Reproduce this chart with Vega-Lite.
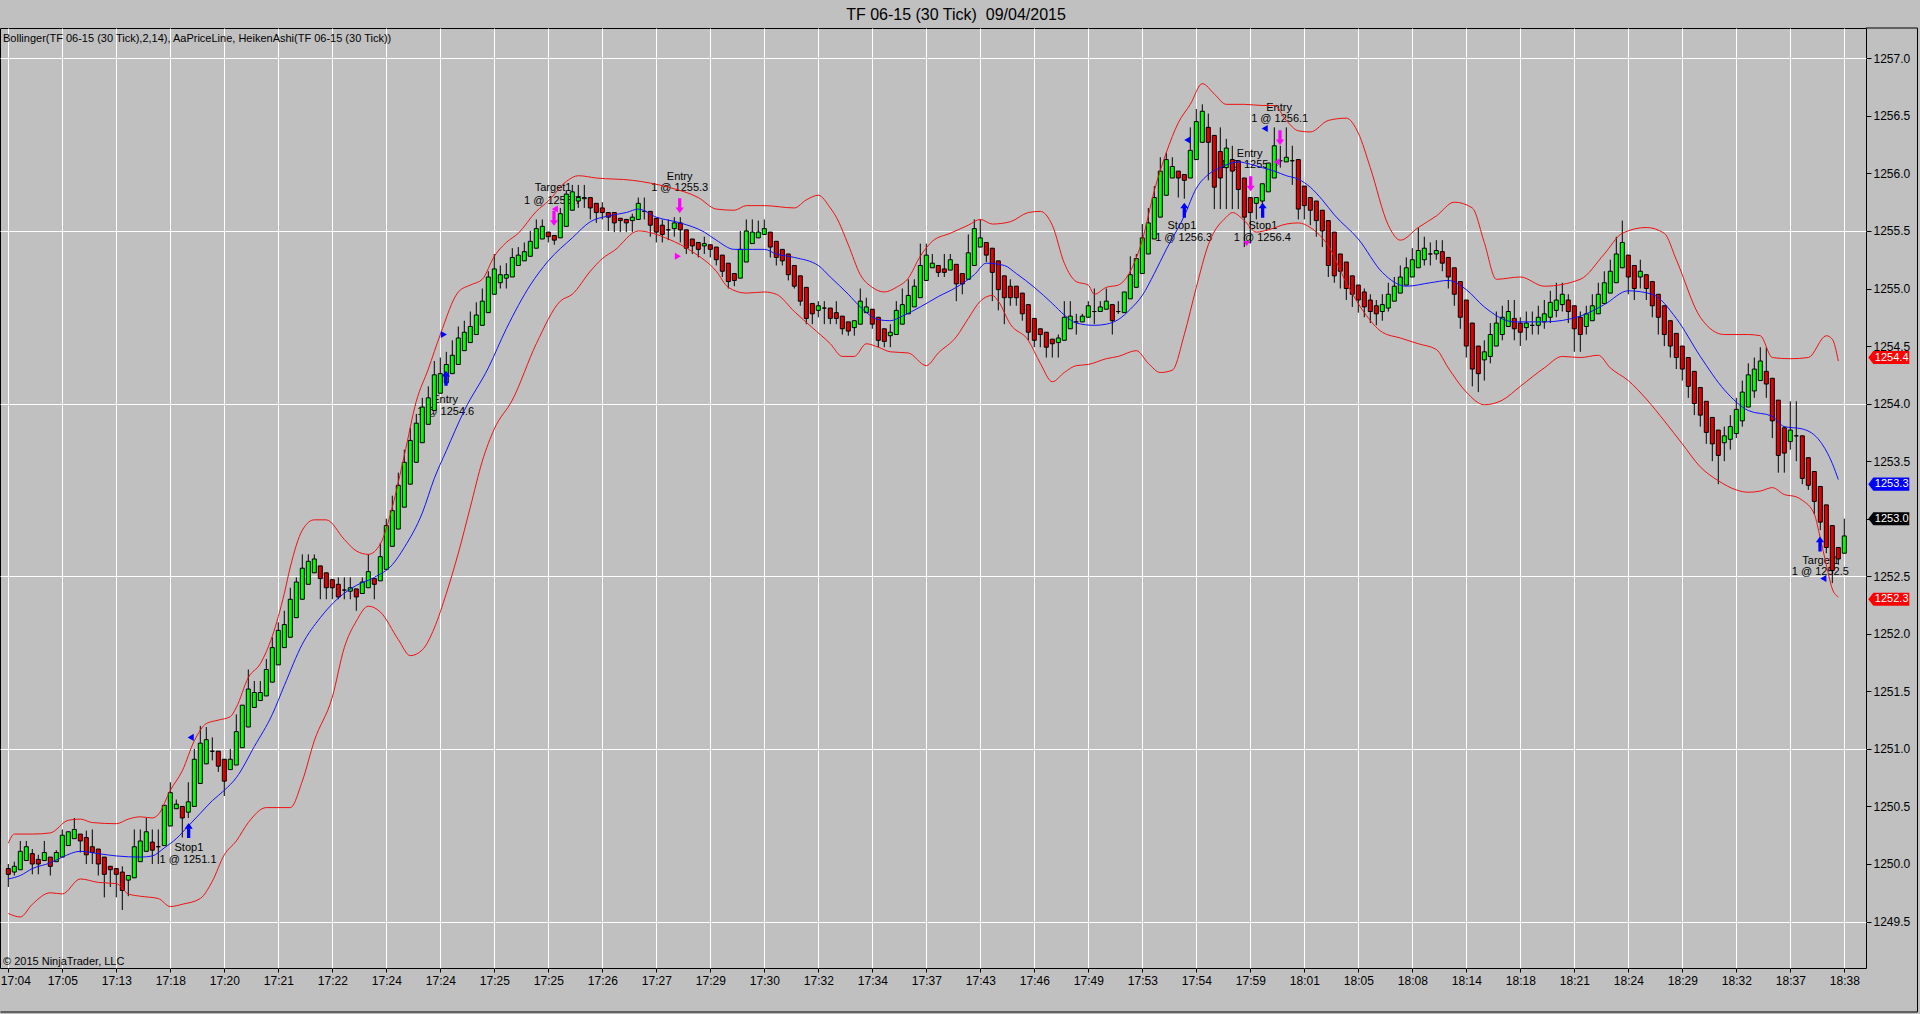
{
"$schema":"https://vega.github.io/schema/vega-lite/v6.json",
"width":1866,"height":940,
"autosize":{"type":"none"},
"padding":{"left":0,"top":28,"right":54,"bottom":46},
"background":"#c0c0c0",
"title":{"text":"TF 06-15 (30 Tick)\u00a0 09/04/2015","fontSize":16,"font":"Liberation Sans","fontWeight":"normal","color":"#000000","anchor":"middle","dx":23,"offset":5},
"config":{"view":{"stroke":"#000000","strokeWidth":1,"fill":"#c0c0c0"},"font":"Liberation Sans","axis":{"labelBound":false},"scale":{"continuousPadding":0}},
"datasets":{
"c":[
{"i":0,"o":1249.96,"c":1249.91,"h":1250.0,"l":1249.8},
{"i":1,"o":1249.93,"c":1249.98,"h":1250.02,"l":1249.9},
{"i":2,"o":1249.95,"c":1250.11,"h":1250.2,"l":1249.95},
{"i":3,"o":1250.03,"c":1250.15,"h":1250.2,"l":1250.03},
{"i":4,"o":1250.09,"c":1250.0,"h":1250.13,"l":1249.91},
{"i":5,"o":1250.04,"c":1250.0,"h":1250.08,"l":1249.91},
{"i":6,"o":1250.03,"c":1250.1,"h":1250.2,"l":1250.03},
{"i":7,"o":1250.06,"c":1249.98,"h":1250.06,"l":1249.9},
{"i":8,"o":1250.02,"c":1250.1,"h":1250.12,"l":1250.02},
{"i":9,"o":1250.06,"c":1250.25,"h":1250.3,"l":1250.06},
{"i":10,"o":1250.16,"c":1250.28,"h":1250.28,"l":1250.16},
{"i":11,"o":1250.22,"c":1250.3,"h":1250.4,"l":1250.22},
{"i":12,"o":1250.26,"c":1250.2,"h":1250.26,"l":1250.1},
{"i":13,"o":1250.23,"c":1250.08,"h":1250.29,"l":1250.0},
{"i":14,"o":1250.15,"c":1250.1,"h":1250.3,"l":1250.0},
{"i":15,"o":1250.13,"c":1250.0,"h":1250.13,"l":1249.9},
{"i":16,"o":1250.06,"c":1249.91,"h":1250.06,"l":1249.71},
{"i":17,"o":1249.98,"c":1249.95,"h":1249.98,"l":1249.8},
{"i":18,"o":1249.96,"c":1249.91,"h":1249.96,"l":1249.71},
{"i":19,"o":1249.93,"c":1249.77,"h":1249.98,"l":1249.6},
{"i":20,"o":1249.86,"c":1249.9,"h":1249.9,"l":1249.72},
{"i":21,"o":1249.88,"c":1250.15,"h":1250.3,"l":1249.88},
{"i":22,"o":1250.02,"c":1250.2,"h":1250.3,"l":1250.02},
{"i":23,"o":1250.11,"c":1250.28,"h":1250.4,"l":1250.11},
{"i":24,"o":1250.19,"c":1250.12,"h":1250.3,"l":1250.0},
{"i":25,"o":1250.15,"c":1250.15,"h":1250.3,"l":1250.0},
{"i":26,"o":1250.16,"c":1250.51,"h":1250.51,"l":1250.16},
{"i":27,"o":1250.33,"c":1250.62,"h":1250.71,"l":1250.33},
{"i":28,"o":1250.48,"c":1250.52,"h":1250.56,"l":1250.48},
{"i":29,"o":1250.5,"c":1250.4,"h":1250.5,"l":1250.23},
{"i":30,"o":1250.45,"c":1250.54,"h":1250.71,"l":1250.4},
{"i":31,"o":1250.5,"c":1250.91,"h":1251.0,"l":1250.5},
{"i":32,"o":1250.7,"c":1251.05,"h":1251.2,"l":1250.7},
{"i":33,"o":1250.87,"c":1251.08,"h":1251.19,"l":1250.87},
{"i":34,"o":1250.98,"c":1250.98,"h":1251.1,"l":1250.9},
{"i":35,"o":1250.98,"c":1250.85,"h":1250.98,"l":1250.8},
{"i":36,"o":1250.91,"c":1250.72,"h":1250.91,"l":1250.59},
{"i":37,"o":1250.82,"c":1250.91,"h":1251.0,"l":1250.82},
{"i":38,"o":1250.86,"c":1251.15,"h":1251.3,"l":1250.86},
{"i":39,"o":1251.01,"c":1251.38,"h":1251.38,"l":1251.01},
{"i":40,"o":1251.19,"c":1251.52,"h":1251.69,"l":1251.19},
{"i":41,"o":1251.36,"c":1251.49,"h":1251.59,"l":1251.36},
{"i":42,"o":1251.42,"c":1251.49,"h":1251.59,"l":1251.42},
{"i":43,"o":1251.46,"c":1251.69,"h":1251.78,"l":1251.46},
{"i":44,"o":1251.58,"c":1251.88,"h":1251.97,"l":1251.58},
{"i":45,"o":1251.73,"c":1252.03,"h":1252.1,"l":1251.73},
{"i":46,"o":1251.88,"c":1252.08,"h":1252.2,"l":1251.88},
{"i":47,"o":1251.97,"c":1252.3,"h":1252.4,"l":1251.97},
{"i":48,"o":1252.14,"c":1252.45,"h":1252.49,"l":1252.14},
{"i":49,"o":1252.3,"c":1252.57,"h":1252.69,"l":1252.3},
{"i":50,"o":1252.43,"c":1252.63,"h":1252.69,"l":1252.43},
{"i":51,"o":1252.53,"c":1252.65,"h":1252.69,"l":1252.53},
{"i":52,"o":1252.59,"c":1252.48,"h":1252.59,"l":1252.3},
{"i":53,"o":1252.53,"c":1252.4,"h":1252.53,"l":1252.3},
{"i":54,"o":1252.47,"c":1252.4,"h":1252.47,"l":1252.3},
{"i":55,"o":1252.43,"c":1252.32,"h":1252.49,"l":1252.3},
{"i":56,"o":1252.38,"c":1252.38,"h":1252.49,"l":1252.3},
{"i":57,"o":1252.37,"c":1252.4,"h":1252.49,"l":1252.3},
{"i":58,"o":1252.39,"c":1252.32,"h":1252.39,"l":1252.2},
{"i":59,"o":1252.35,"c":1252.45,"h":1252.49,"l":1252.35},
{"i":60,"o":1252.4,"c":1252.54,"h":1252.69,"l":1252.4},
{"i":61,"o":1252.48,"c":1252.43,"h":1252.48,"l":1252.3},
{"i":62,"o":1252.46,"c":1252.67,"h":1252.79,"l":1252.46},
{"i":63,"o":1252.56,"c":1252.94,"h":1253.0,"l":1252.56},
{"i":64,"o":1252.76,"c":1253.07,"h":1253.2,"l":1252.76},
{"i":65,"o":1252.91,"c":1253.29,"h":1253.4,"l":1252.91},
{"i":66,"o":1253.1,"c":1253.49,"h":1253.6,"l":1253.1},
{"i":67,"o":1253.3,"c":1253.68,"h":1253.79,"l":1253.3},
{"i":68,"o":1253.49,"c":1253.83,"h":1253.91,"l":1253.49},
{"i":69,"o":1253.66,"c":1253.97,"h":1254.05,"l":1253.66},
{"i":70,"o":1253.82,"c":1254.05,"h":1254.15,"l":1253.82},
{"i":71,"o":1253.94,"c":1254.25,"h":1254.37,"l":1253.94},
{"i":72,"o":1254.09,"c":1254.26,"h":1254.4,"l":1254.09},
{"i":73,"o":1254.18,"c":1254.34,"h":1254.45,"l":1254.18},
{"i":74,"o":1254.26,"c":1254.42,"h":1254.55,"l":1254.26},
{"i":75,"o":1254.34,"c":1254.57,"h":1254.67,"l":1254.34},
{"i":76,"o":1254.46,"c":1254.62,"h":1254.72,"l":1254.46},
{"i":77,"o":1254.53,"c":1254.67,"h":1254.8,"l":1254.53},
{"i":78,"o":1254.6,"c":1254.77,"h":1254.88,"l":1254.6},
{"i":79,"o":1254.68,"c":1254.89,"h":1255.0,"l":1254.68},
{"i":80,"o":1254.79,"c":1255.1,"h":1255.15,"l":1254.79},
{"i":81,"o":1254.95,"c":1255.17,"h":1255.3,"l":1254.95},
{"i":82,"o":1255.05,"c":1255.12,"h":1255.2,"l":1255.0},
{"i":83,"o":1255.09,"c":1255.12,"h":1255.22,"l":1255.0},
{"i":84,"o":1255.1,"c":1255.27,"h":1255.35,"l":1255.1},
{"i":85,"o":1255.2,"c":1255.29,"h":1255.36,"l":1255.2},
{"i":86,"o":1255.24,"c":1255.32,"h":1255.4,"l":1255.24},
{"i":87,"o":1255.28,"c":1255.41,"h":1255.5,"l":1255.28},
{"i":88,"o":1255.35,"c":1255.52,"h":1255.6,"l":1255.35},
{"i":89,"o":1255.43,"c":1255.54,"h":1255.6,"l":1255.43},
{"i":90,"o":1255.49,"c":1255.45,"h":1255.49,"l":1255.4},
{"i":91,"o":1255.46,"c":1255.42,"h":1255.46,"l":1255.38},
{"i":92,"o":1255.44,"c":1255.65,"h":1255.7,"l":1255.44},
{"i":93,"o":1255.54,"c":1255.82,"h":1255.85,"l":1255.54},
{"i":94,"o":1255.68,"c":1255.84,"h":1255.9,"l":1255.68},
{"i":95,"o":1255.76,"c":1255.79,"h":1255.9,"l":1255.7},
{"i":96,"o":1255.78,"c":1255.79,"h":1255.9,"l":1255.7},
{"i":97,"o":1255.79,"c":1255.7,"h":1255.79,"l":1255.6},
{"i":98,"o":1255.74,"c":1255.66,"h":1255.74,"l":1255.57},
{"i":99,"o":1255.7,"c":1255.66,"h":1255.75,"l":1255.6},
{"i":100,"o":1255.66,"c":1255.62,"h":1255.66,"l":1255.5},
{"i":101,"o":1255.66,"c":1255.57,"h":1255.66,"l":1255.49},
{"i":102,"o":1255.61,"c":1255.59,"h":1255.61,"l":1255.49},
{"i":103,"o":1255.6,"c":1255.57,"h":1255.6,"l":1255.49},
{"i":104,"o":1255.59,"c":1255.62,"h":1255.65,"l":1255.49},
{"i":105,"o":1255.6,"c":1255.74,"h":1255.79,"l":1255.6},
{"i":106,"o":1255.67,"c":1255.67,"h":1255.79,"l":1255.6},
{"i":107,"o":1255.67,"c":1255.55,"h":1255.67,"l":1255.45},
{"i":108,"o":1255.61,"c":1255.49,"h":1255.61,"l":1255.4},
{"i":109,"o":1255.55,"c":1255.47,"h":1255.6,"l":1255.4},
{"i":110,"o":1255.51,"c":1255.51,"h":1255.6,"l":1255.42},
{"i":111,"o":1255.52,"c":1255.57,"h":1255.62,"l":1255.45},
{"i":112,"o":1255.57,"c":1255.51,"h":1255.62,"l":1255.4},
{"i":113,"o":1255.51,"c":1255.35,"h":1255.51,"l":1255.3},
{"i":114,"o":1255.43,"c":1255.37,"h":1255.43,"l":1255.3},
{"i":115,"o":1255.4,"c":1255.34,"h":1255.4,"l":1255.27},
{"i":116,"o":1255.37,"c":1255.39,"h":1255.45,"l":1255.3},
{"i":117,"o":1255.38,"c":1255.34,"h":1255.38,"l":1255.27},
{"i":118,"o":1255.36,"c":1255.25,"h":1255.36,"l":1255.2},
{"i":119,"o":1255.29,"c":1255.15,"h":1255.29,"l":1255.1},
{"i":120,"o":1255.22,"c":1255.06,"h":1255.22,"l":1255.0},
{"i":121,"o":1255.13,"c":1255.07,"h":1255.13,"l":1255.02},
{"i":122,"o":1255.09,"c":1255.34,"h":1255.5,"l":1255.09},
{"i":123,"o":1255.23,"c":1255.5,"h":1255.6,"l":1255.23},
{"i":124,"o":1255.39,"c":1255.49,"h":1255.6,"l":1255.39},
{"i":125,"o":1255.44,"c":1255.49,"h":1255.59,"l":1255.44},
{"i":126,"o":1255.47,"c":1255.52,"h":1255.6,"l":1255.47},
{"i":127,"o":1255.49,"c":1255.36,"h":1255.49,"l":1255.27},
{"i":128,"o":1255.41,"c":1255.27,"h":1255.41,"l":1255.2},
{"i":129,"o":1255.34,"c":1255.24,"h":1255.34,"l":1255.2},
{"i":130,"o":1255.3,"c":1255.12,"h":1255.3,"l":1255.07},
{"i":131,"o":1255.2,"c":1255.02,"h":1255.2,"l":1255.0},
{"i":132,"o":1255.11,"c":1254.89,"h":1255.11,"l":1254.85},
{"i":133,"o":1255.01,"c":1254.74,"h":1255.01,"l":1254.69},
{"i":134,"o":1254.87,"c":1254.78,"h":1254.87,"l":1254.69},
{"i":135,"o":1254.81,"c":1254.85,"h":1254.89,"l":1254.75},
{"i":136,"o":1254.83,"c":1254.83,"h":1254.89,"l":1254.69},
{"i":137,"o":1254.83,"c":1254.74,"h":1254.83,"l":1254.69},
{"i":138,"o":1254.79,"c":1254.74,"h":1254.89,"l":1254.69},
{"i":139,"o":1254.76,"c":1254.65,"h":1254.76,"l":1254.6},
{"i":140,"o":1254.71,"c":1254.63,"h":1254.71,"l":1254.59},
{"i":141,"o":1254.66,"c":1254.72,"h":1254.72,"l":1254.59},
{"i":142,"o":1254.69,"c":1254.89,"h":1255.0,"l":1254.69},
{"i":143,"o":1254.79,"c":1254.84,"h":1254.92,"l":1254.79},
{"i":144,"o":1254.82,"c":1254.69,"h":1254.82,"l":1254.65},
{"i":145,"o":1254.75,"c":1254.55,"h":1254.75,"l":1254.49},
{"i":146,"o":1254.65,"c":1254.54,"h":1254.65,"l":1254.49},
{"i":147,"o":1254.59,"c":1254.62,"h":1254.69,"l":1254.49},
{"i":148,"o":1254.6,"c":1254.81,"h":1254.89,"l":1254.6},
{"i":149,"o":1254.69,"c":1254.86,"h":1255.0,"l":1254.69},
{"i":150,"o":1254.78,"c":1254.94,"h":1255.08,"l":1254.78},
{"i":151,"o":1254.84,"c":1255.02,"h":1255.08,"l":1254.84},
{"i":152,"o":1254.92,"c":1255.2,"h":1255.39,"l":1254.92},
{"i":153,"o":1255.07,"c":1255.29,"h":1255.39,"l":1255.07},
{"i":154,"o":1255.18,"c":1255.22,"h":1255.3,"l":1255.18},
{"i":155,"o":1255.2,"c":1255.14,"h":1255.2,"l":1255.1},
{"i":156,"o":1255.17,"c":1255.14,"h":1255.3,"l":1255.1},
{"i":157,"o":1255.16,"c":1255.25,"h":1255.3,"l":1255.16},
{"i":158,"o":1255.21,"c":1255.04,"h":1255.21,"l":1254.89},
{"i":159,"o":1255.13,"c":1255.04,"h":1255.13,"l":1254.95},
{"i":160,"o":1255.08,"c":1255.31,"h":1255.47,"l":1255.08},
{"i":161,"o":1255.2,"c":1255.52,"h":1255.6,"l":1255.2},
{"i":162,"o":1255.36,"c":1255.44,"h":1255.6,"l":1255.36},
{"i":163,"o":1255.4,"c":1255.29,"h":1255.4,"l":1255.23},
{"i":164,"o":1255.35,"c":1255.14,"h":1255.35,"l":1254.89},
{"i":165,"o":1255.24,"c":1254.99,"h":1255.24,"l":1254.81},
{"i":166,"o":1255.11,"c":1254.92,"h":1255.11,"l":1254.69},
{"i":167,"o":1255.02,"c":1254.92,"h":1255.08,"l":1254.85},
{"i":168,"o":1255.02,"c":1254.92,"h":1255.02,"l":1254.85},
{"i":169,"o":1254.96,"c":1254.78,"h":1254.96,"l":1254.72},
{"i":170,"o":1254.86,"c":1254.62,"h":1254.86,"l":1254.55},
{"i":171,"o":1254.74,"c":1254.55,"h":1254.74,"l":1254.49},
{"i":172,"o":1254.65,"c":1254.6,"h":1254.65,"l":1254.49},
{"i":173,"o":1254.62,"c":1254.49,"h":1254.62,"l":1254.4},
{"i":174,"o":1254.56,"c":1254.52,"h":1254.56,"l":1254.4},
{"i":175,"o":1254.53,"c":1254.57,"h":1254.6,"l":1254.4},
{"i":176,"o":1254.55,"c":1254.75,"h":1254.89,"l":1254.55},
{"i":177,"o":1254.65,"c":1254.76,"h":1254.89,"l":1254.65},
{"i":178,"o":1254.71,"c":1254.71,"h":1254.78,"l":1254.6},
{"i":179,"o":1254.71,"c":1254.76,"h":1254.78,"l":1254.71},
{"i":180,"o":1254.75,"c":1254.85,"h":1254.89,"l":1254.75},
{"i":181,"o":1254.8,"c":1254.8,"h":1255.0,"l":1254.69},
{"i":182,"o":1254.8,"c":1254.84,"h":1254.89,"l":1254.8},
{"i":183,"o":1254.82,"c":1254.89,"h":1255.0,"l":1254.82},
{"i":184,"o":1254.86,"c":1254.72,"h":1254.86,"l":1254.6},
{"i":185,"o":1254.8,"c":1254.8,"h":1254.89,"l":1254.78},
{"i":186,"o":1254.79,"c":1254.97,"h":1254.97,"l":1254.79},
{"i":187,"o":1254.91,"c":1255.12,"h":1255.28,"l":1254.91},
{"i":188,"o":1255.01,"c":1255.26,"h":1255.3,"l":1255.01},
{"i":189,"o":1255.13,"c":1255.44,"h":1255.56,"l":1255.13},
{"i":190,"o":1255.3,"c":1255.57,"h":1255.7,"l":1255.3},
{"i":191,"o":1255.43,"c":1255.79,"h":1255.89,"l":1255.43},
{"i":192,"o":1255.62,"c":1256.02,"h":1256.14,"l":1255.62},
{"i":193,"o":1255.81,"c":1256.12,"h":1256.18,"l":1255.81},
{"i":194,"o":1255.96,"c":1256.06,"h":1256.14,"l":1255.96},
{"i":195,"o":1256.02,"c":1255.96,"h":1256.02,"l":1255.79},
{"i":196,"o":1255.99,"c":1255.94,"h":1255.99,"l":1255.78},
{"i":197,"o":1255.96,"c":1256.2,"h":1256.4,"l":1255.96},
{"i":198,"o":1256.12,"c":1256.45,"h":1256.56,"l":1256.12},
{"i":199,"o":1256.27,"c":1256.54,"h":1256.6,"l":1256.27},
{"i":200,"o":1256.4,"c":1256.27,"h":1256.52,"l":1255.94},
{"i":201,"o":1256.33,"c":1255.88,"h":1256.33,"l":1255.69},
{"i":202,"o":1256.19,"c":1255.96,"h":1256.4,"l":1255.69},
{"i":203,"o":1256.05,"c":1256.22,"h":1256.3,"l":1255.69},
{"i":204,"o":1256.12,"c":1256.02,"h":1256.24,"l":1255.69},
{"i":205,"o":1256.11,"c":1255.86,"h":1256.11,"l":1255.69},
{"i":206,"o":1255.96,"c":1255.62,"h":1255.96,"l":1255.36},
{"i":207,"o":1255.79,"c":1255.66,"h":1255.79,"l":1255.39},
{"i":208,"o":1255.74,"c":1255.79,"h":1255.79,"l":1255.6},
{"i":209,"o":1255.76,"c":1255.91,"h":1255.91,"l":1255.7},
{"i":210,"o":1255.84,"c":1256.09,"h":1256.09,"l":1255.84},
{"i":211,"o":1255.96,"c":1256.24,"h":1256.4,"l":1255.96},
{"i":212,"o":1256.11,"c":1256.11,"h":1256.24,"l":1256.05},
{"i":213,"o":1256.1,"c":1256.14,"h":1256.4,"l":1256.1},
{"i":214,"o":1256.11,"c":1256.11,"h":1256.24,"l":1255.9},
{"i":215,"o":1256.12,"c":1255.69,"h":1256.12,"l":1255.6},
{"i":216,"o":1255.89,"c":1255.72,"h":1255.89,"l":1255.6},
{"i":217,"o":1255.79,"c":1255.68,"h":1255.79,"l":1255.55},
{"i":218,"o":1255.76,"c":1255.59,"h":1255.76,"l":1255.45},
{"i":219,"o":1255.68,"c":1255.5,"h":1255.68,"l":1255.36},
{"i":220,"o":1255.59,"c":1255.2,"h":1255.59,"l":1255.1},
{"i":221,"o":1255.49,"c":1255.11,"h":1255.49,"l":1255.05},
{"i":222,"o":1255.3,"c":1255.15,"h":1255.3,"l":1255.0},
{"i":223,"o":1255.23,"c":1255.0,"h":1255.23,"l":1254.9},
{"i":224,"o":1255.11,"c":1254.95,"h":1255.11,"l":1254.84},
{"i":225,"o":1255.03,"c":1254.9,"h":1255.03,"l":1254.79},
{"i":226,"o":1254.97,"c":1254.84,"h":1255.0,"l":1254.75},
{"i":227,"o":1254.9,"c":1254.8,"h":1254.95,"l":1254.7},
{"i":228,"o":1254.85,"c":1254.78,"h":1254.9,"l":1254.68},
{"i":229,"o":1254.8,"c":1254.86,"h":1254.95,"l":1254.72},
{"i":230,"o":1254.83,"c":1254.95,"h":1255.05,"l":1254.8},
{"i":231,"o":1254.89,"c":1255.02,"h":1255.1,"l":1254.89},
{"i":232,"o":1254.96,"c":1255.1,"h":1255.2,"l":1254.96},
{"i":233,"o":1255.03,"c":1255.18,"h":1255.27,"l":1255.03},
{"i":234,"o":1255.1,"c":1255.25,"h":1255.35,"l":1255.1},
{"i":235,"o":1255.18,"c":1255.33,"h":1255.53,"l":1255.18},
{"i":236,"o":1255.25,"c":1255.35,"h":1255.45,"l":1255.2},
{"i":237,"o":1255.3,"c":1255.3,"h":1255.4,"l":1255.2},
{"i":238,"o":1255.3,"c":1255.33,"h":1255.42,"l":1255.25},
{"i":239,"o":1255.32,"c":1255.22,"h":1255.42,"l":1255.15},
{"i":240,"o":1255.27,"c":1255.1,"h":1255.27,"l":1255.0},
{"i":241,"o":1255.18,"c":1254.95,"h":1255.18,"l":1254.85},
{"i":242,"o":1255.06,"c":1254.75,"h":1255.06,"l":1254.65},
{"i":243,"o":1254.9,"c":1254.5,"h":1254.9,"l":1254.4},
{"i":244,"o":1254.7,"c":1254.3,"h":1254.7,"l":1254.15},
{"i":245,"o":1254.5,"c":1254.26,"h":1254.5,"l":1254.1},
{"i":246,"o":1254.38,"c":1254.45,"h":1254.55,"l":1254.2},
{"i":247,"o":1254.41,"c":1254.6,"h":1254.7,"l":1254.35},
{"i":248,"o":1254.5,"c":1254.7,"h":1254.8,"l":1254.5},
{"i":249,"o":1254.6,"c":1254.75,"h":1254.85,"l":1254.55},
{"i":250,"o":1254.67,"c":1254.8,"h":1254.9,"l":1254.67},
{"i":251,"o":1254.74,"c":1254.65,"h":1254.9,"l":1254.55},
{"i":252,"o":1254.7,"c":1254.62,"h":1254.75,"l":1254.5},
{"i":253,"o":1254.66,"c":1254.7,"h":1254.8,"l":1254.55},
{"i":254,"o":1254.68,"c":1254.68,"h":1254.8,"l":1254.6},
{"i":255,"o":1254.68,"c":1254.75,"h":1254.85,"l":1254.6},
{"i":256,"o":1254.71,"c":1254.78,"h":1254.9,"l":1254.65},
{"i":257,"o":1254.75,"c":1254.88,"h":1254.98,"l":1254.7},
{"i":258,"o":1254.81,"c":1254.9,"h":1255.05,"l":1254.75},
{"i":259,"o":1254.86,"c":1254.95,"h":1255.05,"l":1254.8},
{"i":260,"o":1254.9,"c":1254.8,"h":1254.95,"l":1254.7},
{"i":261,"o":1254.85,"c":1254.65,"h":1254.85,"l":1254.45},
{"i":262,"o":1254.75,"c":1254.6,"h":1254.8,"l":1254.45},
{"i":263,"o":1254.67,"c":1254.78,"h":1254.85,"l":1254.6},
{"i":264,"o":1254.72,"c":1254.85,"h":1254.95,"l":1254.72},
{"i":265,"o":1254.78,"c":1254.95,"h":1255.05,"l":1254.78},
{"i":266,"o":1254.87,"c":1255.05,"h":1255.15,"l":1254.87},
{"i":267,"o":1254.96,"c":1255.15,"h":1255.25,"l":1254.96},
{"i":268,"o":1255.05,"c":1255.3,"h":1255.45,"l":1255.05},
{"i":269,"o":1255.18,"c":1255.4,"h":1255.59,"l":1255.18},
{"i":270,"o":1255.29,"c":1255.1,"h":1255.29,"l":1254.95},
{"i":271,"o":1255.2,"c":1255.0,"h":1255.2,"l":1254.9},
{"i":272,"o":1255.1,"c":1255.15,"h":1255.25,"l":1255.0},
{"i":273,"o":1255.12,"c":1255.0,"h":1255.12,"l":1254.9},
{"i":274,"o":1255.06,"c":1254.85,"h":1255.06,"l":1254.75},
{"i":275,"o":1254.95,"c":1254.75,"h":1254.95,"l":1254.6},
{"i":276,"o":1254.85,"c":1254.6,"h":1254.85,"l":1254.5},
{"i":277,"o":1254.72,"c":1254.5,"h":1254.72,"l":1254.4},
{"i":278,"o":1254.61,"c":1254.4,"h":1254.61,"l":1254.3},
{"i":279,"o":1254.5,"c":1254.3,"h":1254.5,"l":1254.2},
{"i":280,"o":1254.4,"c":1254.15,"h":1254.4,"l":1254.05},
{"i":281,"o":1254.28,"c":1254.0,"h":1254.28,"l":1253.9},
{"i":282,"o":1254.14,"c":1253.9,"h":1254.14,"l":1253.8},
{"i":283,"o":1254.02,"c":1253.75,"h":1254.02,"l":1253.65},
{"i":284,"o":1253.88,"c":1253.65,"h":1253.88,"l":1253.5},
{"i":285,"o":1253.77,"c":1253.55,"h":1253.77,"l":1253.3},
{"i":286,"o":1253.66,"c":1253.72,"h":1253.8,"l":1253.5},
{"i":287,"o":1253.69,"c":1253.8,"h":1253.9,"l":1253.6},
{"i":288,"o":1253.74,"c":1253.95,"h":1254.05,"l":1253.7},
{"i":289,"o":1253.85,"c":1254.1,"h":1254.2,"l":1253.8},
{"i":290,"o":1253.97,"c":1254.25,"h":1254.35,"l":1253.97},
{"i":291,"o":1254.11,"c":1254.3,"h":1254.4,"l":1254.05},
{"i":292,"o":1254.2,"c":1254.37,"h":1254.49,"l":1254.2},
{"i":293,"o":1254.28,"c":1254.17,"h":1254.49,"l":1254.05},
{"i":294,"o":1254.22,"c":1253.85,"h":1254.22,"l":1253.7},
{"i":295,"o":1254.03,"c":1253.55,"h":1254.03,"l":1253.4},
{"i":296,"o":1253.79,"c":1253.57,"h":1253.8,"l":1253.4},
{"i":297,"o":1253.67,"c":1253.77,"h":1254.02,"l":1253.6},
{"i":298,"o":1253.72,"c":1253.72,"h":1254.02,"l":1253.5},
{"i":299,"o":1253.72,"c":1253.35,"h":1253.72,"l":1253.3},
{"i":300,"o":1253.53,"c":1253.29,"h":1253.53,"l":1253.25},
{"i":301,"o":1253.41,"c":1253.15,"h":1253.41,"l":1253.04},
{"i":302,"o":1253.28,"c":1252.97,"h":1253.28,"l":1252.9},
{"i":303,"o":1253.12,"c":1252.75,"h":1253.12,"l":1252.7},
{"i":304,"o":1252.94,"c":1252.55,"h":1252.94,"l":1252.44},
{"i":305,"o":1252.75,"c":1252.65,"h":1252.75,"l":1252.6},
{"i":306,"o":1252.7,"c":1252.85,"h":1253.0,"l":1252.7}
],
"bb":[
{"s":"u","i":0,"v":1250.18},{"s":"u","i":1,"v":1250.26},{"s":"u","i":4,"v":1250.26},{"s":"u","i":7,"v":1250.27},{"s":"u","i":10,"v":1250.38},{"s":"u","i":12,"v":1250.39},{"s":"u","i":14,"v":1250.36},{"s":"u","i":18,"v":1250.35},{"s":"u","i":20,"v":1250.39},{"s":"u","i":22,"v":1250.41},{"s":"u","i":24,"v":1250.4},{"s":"u","i":25,"v":1250.43},{"s":"u","i":27,"v":1250.64},{"s":"u","i":29,"v":1250.81},{"s":"u","i":31,"v":1251.07},{"s":"u","i":33,"v":1251.22},{"s":"u","i":35,"v":1251.25},{"s":"u","i":37,"v":1251.28},{"s":"u","i":38,"v":1251.36},{"s":"u","i":40,"v":1251.62},{"s":"u","i":42,"v":1251.74},{"s":"u","i":44,"v":1251.98},{"s":"u","i":46,"v":1252.35},{"s":"u","i":47,"v":1252.58},{"s":"u","i":49,"v":1252.9},{"s":"u","i":51,"v":1252.99},{"s":"u","i":53,"v":1252.99},{"s":"u","i":56,"v":1252.82},{"s":"u","i":58,"v":1252.72},{"s":"u","i":60,"v":1252.69},{"s":"u","i":62,"v":1252.78},{"s":"u","i":64,"v":1253.1},{"s":"u","i":66,"v":1253.55},{"s":"u","i":68,"v":1254.02},{"s":"u","i":70,"v":1254.3},{"s":"u","i":72,"v":1254.6},{"s":"u","i":75,"v":1254.97},{"s":"u","i":77,"v":1255.03},{"s":"u","i":79,"v":1255.08},{"s":"u","i":81,"v":1255.28},{"s":"u","i":83,"v":1255.4},{"s":"u","i":85,"v":1255.48},{"s":"u","i":88,"v":1255.67},{"s":"u","i":90,"v":1255.76},{"s":"u","i":93,"v":1255.93},{"s":"u","i":95,"v":1255.98},{"s":"u","i":98,"v":1255.96},{"s":"u","i":104,"v":1255.94},{"s":"u","i":110,"v":1255.88},{"s":"u","i":115,"v":1255.79},{"s":"u","i":118,"v":1255.69},{"s":"u","i":121,"v":1255.68},{"s":"u","i":123,"v":1255.72},{"s":"u","i":126,"v":1255.72},{"s":"u","i":131,"v":1255.7},{"s":"u","i":133,"v":1255.77},{"s":"u","i":135,"v":1255.81},{"s":"u","i":137,"v":1255.7},{"s":"u","i":138,"v":1255.62},{"s":"u","i":140,"v":1255.38},{"s":"u","i":142,"v":1255.12},{"s":"u","i":144,"v":1255.01},{"s":"u","i":146,"v":1254.97},{"s":"u","i":148,"v":1255.01},{"s":"u","i":150,"v":1255.09},{"s":"u","i":152,"v":1255.28},{"s":"u","i":154,"v":1255.41},{"s":"u","i":157,"v":1255.48},{"s":"u","i":160,"v":1255.55},{"s":"u","i":162,"v":1255.6},{"s":"u","i":164,"v":1255.56},{"s":"u","i":167,"v":1255.58},{"s":"u","i":170,"v":1255.66},{"s":"u","i":172,"v":1255.67},{"s":"u","i":174,"v":1255.55},{"s":"u","i":176,"v":1255.22},{"s":"u","i":178,"v":1255.06},{"s":"u","i":180,"v":1255.03},{"s":"u","i":181,"v":1254.95},{"s":"u","i":183,"v":1255.01},{"s":"u","i":185,"v":1255.03},{"s":"u","i":187,"v":1255.15},{"s":"u","i":189,"v":1255.42},{"s":"u","i":191,"v":1255.85},{"s":"u","i":193,"v":1256.18},{"s":"u","i":195,"v":1256.44},{"s":"u","i":197,"v":1256.6},{"s":"u","i":199,"v":1256.78},{"s":"u","i":201,"v":1256.69},{"s":"u","i":203,"v":1256.6},{"s":"u","i":206,"v":1256.6},{"s":"u","i":209,"v":1256.59},{"s":"u","i":211,"v":1256.59},{"s":"u","i":213,"v":1256.46},{"s":"u","i":215,"v":1256.37},{"s":"u","i":217,"v":1256.36},{"s":"u","i":220,"v":1256.46},{"s":"u","i":223,"v":1256.48},{"s":"u","i":225,"v":1256.35},{"s":"u","i":227,"v":1256.05},{"s":"u","i":230,"v":1255.55},{"s":"u","i":232,"v":1255.42},{"s":"u","i":235,"v":1255.53},{"s":"u","i":238,"v":1255.63},{"s":"u","i":241,"v":1255.75},{"s":"u","i":244,"v":1255.7},{"s":"u","i":246,"v":1255.4},{"s":"u","i":248,"v":1255.08},{"s":"u","i":252,"v":1255.1},{"s":"u","i":256,"v":1255.02},{"s":"u","i":262,"v":1255.08},{"s":"u","i":266,"v":1255.3},{"s":"u","i":269,"v":1255.48},{"s":"u","i":273,"v":1255.53},{"s":"u","i":276,"v":1255.48},{"s":"u","i":278,"v":1255.25},{"s":"u","i":282,"v":1254.75},{"s":"u","i":286,"v":1254.6},{"s":"u","i":290,"v":1254.6},{"s":"u","i":292,"v":1254.59},{"s":"u","i":294,"v":1254.4},{"s":"u","i":297,"v":1254.39},{"s":"u","i":300,"v":1254.4},{"s":"u","i":303,"v":1254.59},{"s":"u","i":304,"v":1254.56},{"s":"u","i":305,"v":1254.37},
{"s":"m","i":0,"v":1249.87},{"s":"m","i":2,"v":1249.9},{"s":"m","i":4,"v":1249.96},{"s":"m","i":7,"v":1250.01},{"s":"m","i":9,"v":1250.06},{"s":"m","i":12,"v":1250.11},{"s":"m","i":15,"v":1250.09},{"s":"m","i":18,"v":1250.07},{"s":"m","i":22,"v":1250.06},{"s":"m","i":24,"v":1250.07},{"s":"m","i":26,"v":1250.14},{"s":"m","i":28,"v":1250.22},{"s":"m","i":30,"v":1250.33},{"s":"m","i":32,"v":1250.44},{"s":"m","i":34,"v":1250.55},{"s":"m","i":36,"v":1250.64},{"s":"m","i":38,"v":1250.75},{"s":"m","i":41,"v":1251.02},{"s":"m","i":44,"v":1251.3},{"s":"m","i":46,"v":1251.55},{"s":"m","i":49,"v":1251.91},{"s":"m","i":52,"v":1252.14},{"s":"m","i":55,"v":1252.31},{"s":"m","i":58,"v":1252.42},{"s":"m","i":61,"v":1252.49},{"s":"m","i":64,"v":1252.6},{"s":"m","i":66,"v":1252.75},{"s":"m","i":69,"v":1253.05},{"s":"m","i":71,"v":1253.35},{"s":"m","i":73,"v":1253.59},{"s":"m","i":76,"v":1253.94},{"s":"m","i":80,"v":1254.31},{"s":"m","i":83,"v":1254.65},{"s":"m","i":87,"v":1255.03},{"s":"m","i":90,"v":1255.24},{"s":"m","i":94,"v":1255.44},{"s":"m","i":97,"v":1255.58},{"s":"m","i":100,"v":1255.63},{"s":"m","i":103,"v":1255.66},{"s":"m","i":105,"v":1255.69},{"s":"m","i":108,"v":1255.62},{"s":"m","i":112,"v":1255.57},{"s":"m","i":116,"v":1255.49},{"s":"m","i":118,"v":1255.42},{"s":"m","i":121,"v":1255.34},{"s":"m","i":124,"v":1255.34},{"s":"m","i":126,"v":1255.34},{"s":"m","i":128,"v":1255.3},{"s":"m","i":131,"v":1255.27},{"s":"m","i":135,"v":1255.2},{"s":"m","i":137,"v":1255.1},{"s":"m","i":140,"v":1254.95},{"s":"m","i":142,"v":1254.84},{"s":"m","i":145,"v":1254.73},{"s":"m","i":147,"v":1254.72},{"s":"m","i":149,"v":1254.76},{"s":"m","i":152,"v":1254.84},{"s":"m","i":155,"v":1254.93},{"s":"m","i":158,"v":1255.01},{"s":"m","i":161,"v":1255.12},{"s":"m","i":163,"v":1255.22},{"s":"m","i":166,"v":1255.2},{"s":"m","i":168,"v":1255.13},{"s":"m","i":171,"v":1255.01},{"s":"m","i":174,"v":1254.87},{"s":"m","i":176,"v":1254.77},{"s":"m","i":178,"v":1254.7},{"s":"m","i":181,"v":1254.68},{"s":"m","i":183,"v":1254.69},{"s":"m","i":185,"v":1254.73},{"s":"m","i":187,"v":1254.82},{"s":"m","i":189,"v":1254.94},{"s":"m","i":191,"v":1255.13},{"s":"m","i":193,"v":1255.34},{"s":"m","i":196,"v":1255.63},{"s":"m","i":198,"v":1255.87},{"s":"m","i":200,"v":1255.99},{"s":"m","i":202,"v":1256.05},{"s":"m","i":205,"v":1256.1},{"s":"m","i":207,"v":1256.08},{"s":"m","i":209,"v":1256.05},{"s":"m","i":211,"v":1256.02},{"s":"m","i":213,"v":1255.98},{"s":"m","i":215,"v":1255.95},{"s":"m","i":217,"v":1255.88},{"s":"m","i":219,"v":1255.77},{"s":"m","i":221,"v":1255.64},{"s":"m","i":225,"v":1255.43},{"s":"m","i":229,"v":1255.14},{"s":"m","i":233,"v":1255.02},{"s":"m","i":237,"v":1255.05},{"s":"m","i":240,"v":1255.07},{"s":"m","i":243,"v":1254.99},{"s":"m","i":246,"v":1254.84},{"s":"m","i":251,"v":1254.71},{"s":"m","i":256,"v":1254.71},{"s":"m","i":262,"v":1254.76},{"s":"m","i":266,"v":1254.86},{"s":"m","i":270,"v":1254.98},{"s":"m","i":274,"v":1254.95},{"s":"m","i":278,"v":1254.74},{"s":"m","i":282,"v":1254.41},{"s":"m","i":286,"v":1254.12},{"s":"m","i":290,"v":1253.94},{"s":"m","i":294,"v":1253.89},{"s":"m","i":296,"v":1253.8},{"s":"m","i":299,"v":1253.78},{"s":"m","i":302,"v":1253.67},{"s":"m","i":304,"v":1253.48},{"s":"m","i":305,"v":1253.34},
{"s":"b","i":0,"v":1249.57},{"s":"b","i":2,"v":1249.54},{"s":"b","i":4,"v":1249.65},{"s":"b","i":7,"v":1249.75},{"s":"b","i":9,"v":1249.74},{"s":"b","i":12,"v":1249.87},{"s":"b","i":15,"v":1249.84},{"s":"b","i":18,"v":1249.83},{"s":"b","i":20,"v":1249.74},{"s":"b","i":22,"v":1249.72},{"s":"b","i":25,"v":1249.7},{"s":"b","i":27,"v":1249.63},{"s":"b","i":29,"v":1249.65},{"s":"b","i":32,"v":1249.7},{"s":"b","i":34,"v":1249.85},{"s":"b","i":36,"v":1250.08},{"s":"b","i":38,"v":1250.2},{"s":"b","i":40,"v":1250.36},{"s":"b","i":43,"v":1250.49},{"s":"b","i":47,"v":1250.49},{"s":"b","i":49,"v":1250.72},{"s":"b","i":51,"v":1251.07},{"s":"b","i":54,"v":1251.45},{"s":"b","i":56,"v":1251.88},{"s":"b","i":58,"v":1252.11},{"s":"b","i":60,"v":1252.24},{"s":"b","i":62,"v":1252.19},{"s":"b","i":65,"v":1251.95},{"s":"b","i":67,"v":1251.81},{"s":"b","i":69,"v":1251.86},{"s":"b","i":71,"v":1252.05},{"s":"b","i":73,"v":1252.35},{"s":"b","i":75,"v":1252.7},{"s":"b","i":77,"v":1253.1},{"s":"b","i":79,"v":1253.5},{"s":"b","i":81,"v":1253.78},{"s":"b","i":84,"v":1254.03},{"s":"b","i":88,"v":1254.52},{"s":"b","i":92,"v":1254.89},{"s":"b","i":94,"v":1254.95},{"s":"b","i":97,"v":1255.15},{"s":"b","i":99,"v":1255.26},{"s":"b","i":101,"v":1255.33},{"s":"b","i":105,"v":1255.5},{"s":"b","i":110,"v":1255.43},{"s":"b","i":114,"v":1255.32},{"s":"b","i":118,"v":1255.15},{"s":"b","i":120,"v":1255.01},{"s":"b","i":123,"v":1254.96},{"s":"b","i":126,"v":1254.97},{"s":"b","i":128,"v":1254.95},{"s":"b","i":131,"v":1254.8},{"s":"b","i":134,"v":1254.66},{"s":"b","i":137,"v":1254.52},{"s":"b","i":139,"v":1254.41},{"s":"b","i":141,"v":1254.41},{"s":"b","i":143,"v":1254.52},{"s":"b","i":145,"v":1254.49},{"s":"b","i":147,"v":1254.45},{"s":"b","i":150,"v":1254.44},{"s":"b","i":153,"v":1254.33},{"s":"b","i":155,"v":1254.44},{"s":"b","i":158,"v":1254.58},{"s":"b","i":160,"v":1254.74},{"s":"b","i":162,"v":1254.89},{"s":"b","i":164,"v":1254.94},{"s":"b","i":165,"v":1254.89},{"s":"b","i":167,"v":1254.69},{"s":"b","i":170,"v":1254.55},{"s":"b","i":172,"v":1254.35},{"s":"b","i":174,"v":1254.19},{"s":"b","i":176,"v":1254.27},{"s":"b","i":178,"v":1254.33},{"s":"b","i":180,"v":1254.34},{"s":"b","i":183,"v":1254.39},{"s":"b","i":185,"v":1254.41},{"s":"b","i":188,"v":1254.46},{"s":"b","i":190,"v":1254.35},{"s":"b","i":192,"v":1254.27},{"s":"b","i":194,"v":1254.29},{"s":"b","i":196,"v":1254.6},{"s":"b","i":198,"v":1255.01},{"s":"b","i":200,"v":1255.38},{"s":"b","i":203,"v":1255.62},{"s":"b","i":204,"v":1255.66},{"s":"b","i":206,"v":1255.59},{"s":"b","i":208,"v":1255.49},{"s":"b","i":210,"v":1255.51},{"s":"b","i":213,"v":1255.56},{"s":"b","i":215,"v":1255.57},{"s":"b","i":217,"v":1255.53},{"s":"b","i":220,"v":1255.37},{"s":"b","i":223,"v":1255.05},{"s":"b","i":226,"v":1254.79},{"s":"b","i":229,"v":1254.62},{"s":"b","i":232,"v":1254.57},{"s":"b","i":235,"v":1254.52},{"s":"b","i":238,"v":1254.47},{"s":"b","i":240,"v":1254.31},{"s":"b","i":243,"v":1254.1},{"s":"b","i":246,"v":1253.99},{"s":"b","i":249,"v":1254.03},{"s":"b","i":252,"v":1254.15},{"s":"b","i":256,"v":1254.31},{"s":"b","i":259,"v":1254.41},{"s":"b","i":262,"v":1254.4},{"s":"b","i":265,"v":1254.42},{"s":"b","i":267,"v":1254.31},{"s":"b","i":270,"v":1254.2},{"s":"b","i":273,"v":1254.04},{"s":"b","i":276,"v":1253.85},{"s":"b","i":279,"v":1253.65},{"s":"b","i":282,"v":1253.45},{"s":"b","i":285,"v":1253.33},{"s":"b","i":288,"v":1253.25},{"s":"b","i":290,"v":1253.23},{"s":"b","i":292,"v":1253.24},{"s":"b","i":294,"v":1253.27},{"s":"b","i":296,"v":1253.21},{"s":"b","i":298,"v":1253.19},{"s":"b","i":299,"v":1253.16},{"s":"b","i":301,"v":1253.04},{"s":"b","i":302,"v":1252.83},{"s":"b","i":303,"v":1252.6},{"s":"b","i":304,"v":1252.39},{"s":"b","i":305,"v":1252.32}
],
"ann":[
{"i":30.1,"p":1250.14,"t":"Stop1"},{"i":29.95,"p":1250.035,"t":"1 @ 1251.1"},
{"i":72.8,"p":1254.03,"t":"Entry"},{"i":72.9,"p":1253.93,"t":"1 @ 1254.6"},
{"i":90.8,"p":1255.87,"t":"Target1"},{"i":90.7,"p":1255.76,"t":"1 @ 1255.7"},
{"i":111.9,"p":1255.97,"t":"Entry"},{"i":111.9,"p":1255.87,"t":"1 @ 1255.3"},
{"i":195.6,"p":1255.54,"t":"Stop1"},{"i":195.9,"p":1255.44,"t":"1 @ 1256.3"},
{"i":211.8,"p":1256.57,"t":"Entry"},{"i":211.9,"p":1256.47,"t":"1 @ 1256.1"},
{"i":206.9,"p":1256.17,"t":"Entry"},{"i":206.8,"p":1256.07,"t":"1 @ 1255.4"},
{"i":209.1,"p":1255.54,"t":"Stop1"},{"i":209.0,"p":1255.44,"t":"1 @ 1256.4"},
{"i":302.06,"p":1252.635,"t":"Target1"},{"i":302.0,"p":1252.54,"t":"1 @ 1252.5"}
],
"sig":[
{"i":30.06,"p":1250.29,"k":"up","col":"#0000ff"},
{"i":72.95,"p":1254.22,"k":"up","col":"#0000ff"},
{"i":90.95,"p":1255.61,"k":"down","col":"#ff00ff"},
{"i":111.9,"p":1255.72,"k":"down","col":"#ff00ff"},
{"i":196.0,"p":1255.68,"k":"up","col":"#0000ff"},
{"i":211.95,"p":1256.31,"k":"down","col":"#ff00ff"},
{"i":207.06,"p":1255.91,"k":"down","col":"#ff00ff"},
{"i":209.06,"p":1255.68,"k":"up","col":"#0000ff"},
{"i":301.95,"p":1252.78,"k":"up","col":"#0000ff"},
{"i":30.4,"p":1251.1,"k":"left","col":"#0000ff"},
{"i":72.6,"p":1254.6,"k":"right","col":"#0000ff"},
{"i":91.1,"p":1255.69,"k":"left","col":"#ff00ff"},
{"i":111.6,"p":1255.28,"k":"right","col":"#ff00ff"},
{"i":196.5,"p":1256.29,"k":"left","col":"#0000ff"},
{"i":209.4,"p":1256.39,"k":"left","col":"#0000ff"},
{"i":211.4,"p":1256.1,"k":"left","col":"#ff00ff"},
{"i":206.4,"p":1255.39,"k":"down2","col":"#ff00ff"},
{"i":302.5,"p":1252.48,"k":"left","col":"#0000ff"}
],
"tags":[
{"p":1254.4,"t":"1254.4","col":"#ff0000"},
{"p":1253.3,"t":"1253.3","col":"#0000ff"},
{"p":1253.0,"t":"1253.0","col":"#000000"},
{"p":1252.3,"t":"1252.3","col":"#ff0000"}
]
},
"layer":[
{"data":{"name":"c"},"mark":{"type":"rule","color":"#000000","strokeWidth":1},
 "encoding":{
  "x":{"field":"i","type":"quantitative","scale":{"domain":[-1.3833,309.617],"nice":false,"zero":false,"padding":0},
   "axis":{"values":[0,9,18,27,36,45,54,63,72,81,90,99,108,117,126,135,144,153,162,171,180,189,198,207,216,225,234,243,252,261,270,279,288,297,306],
    "labelExpr":"['17:04','17:05','17:13','17:18','17:20','17:21','17:22','17:24','17:24','17:25','17:25','17:26','17:27','17:29','17:30','17:32','17:34','17:37','17:43','17:46','17:49','17:53','17:54','17:59','18:01','18:05','18:08','18:14','18:18','18:21','18:24','18:29','18:32','18:37','18:38'][round(datum.value/9)]",
    "grid":true,"gridColor":"#ffffff","gridOpacity":1,"gridWidth":1,"domain":false,"ticks":true,"tickColor":"#000000","tickSize":4,
    "labelFont":"Liberation Sans","labelFontSize":12,"labelColor":"#000000","labelPadding":3,"labelFlush":10,"labelFlushOffset":8,"labelBound":false,"labelOverlap":false,"title":null}},
  "y":{"field":"l","type":"quantitative","scale":{"domain":[1249.0964,1257.2633],"nice":false,"zero":false,"padding":0},
   "axis":{"orient":"right","values":[1249.5,1250,1250.5,1251,1251.5,1252,1252.5,1253,1253.5,1254,1254.5,1255,1255.5,1256,1256.5,1257],
    "labelExpr":"datum.value == 1253 ? '' : format(datum.value, '.1f')",
    "grid":true,"gridColor":"#ffffff","gridWidth":1,"gridOpacity":{"condition":{"test":"abs((datum.value*2)%3)<0.01","value":1},"value":0},
    "domain":false,"ticks":true,"tickColor":"#000000","tickSize":5,"labelFont":"Liberation Sans","labelFontSize":12,"labelColor":"#000000","labelPadding":2,"labelFlush":false,"labelOverlap":false,"title":null}},
  "y2":{"field":"h"}}},
{"mark":{"type":"rule","color":"#ff0000","strokeWidth":1},
 "encoding":{"y":{"datum":1253.0,"type":"quantitative"}}},
{"data":{"name":"ann"},"mark":{"type":"text","font":"Liberation Sans","fontSize":11,"color":"#000000","align":"center","baseline":"middle"},
 "encoding":{"x":{"field":"i","type":"quantitative"},"y":{"field":"p","type":"quantitative"},"text":{"field":"t"}}},
{"data":{"name":"c"},"mark":{"type":"bar","width":4,"stroke":"#000000","strokeWidth":1},
 "encoding":{"x":{"field":"i","type":"quantitative"},"y":{"field":"o","type":"quantitative"},"y2":{"field":"c"},
  "color":{"condition":{"test":"datum.c > datum.o","value":"#00ff00"},"value":"#e00000"}}},
{"data":{"name":"bb"},"mark":{"type":"line","strokeWidth":1,"interpolate":"monotone"},
 "encoding":{"x":{"field":"i","type":"quantitative"},"y":{"field":"v","type":"quantitative"},
  "color":{"field":"s","type":"nominal","scale":{"domain":["u","m","b"],"range":["#f01010","#1010ff","#f01010"]},"legend":null},"detail":{"field":"s"}}},
{"data":{"name":"sig"},"transform":[{"filter":"datum.k=='up'"}],"mark":{"type":"point","filled":true,"opacity":1,"size":225,"shape":"M0,-1 L0.55,-0.25 L0.22,-0.25 L0.22,1 L-0.22,1 L-0.22,-0.25 L-0.55,-0.25 Z"},
 "encoding":{"x":{"field":"i","type":"quantitative"},"y":{"field":"p","type":"quantitative"},"color":{"field":"col","type":"nominal","scale":null}}},
{"data":{"name":"sig"},"transform":[{"filter":"datum.k=='down'"}],"mark":{"type":"point","filled":true,"opacity":1,"size":225,"shape":"M0,1 L0.55,0.25 L0.22,0.25 L0.22,-1 L-0.22,-1 L-0.22,0.25 L-0.55,0.25 Z"},
 "encoding":{"x":{"field":"i","type":"quantitative"},"y":{"field":"p","type":"quantitative"},"color":{"field":"col","type":"nominal","scale":null}}},
{"data":{"name":"sig"},"transform":[{"filter":"datum.k=='left'"}],"mark":{"type":"point","filled":true,"opacity":1,"size":50,"shape":"triangle-left"},
 "encoding":{"x":{"field":"i","type":"quantitative"},"y":{"field":"p","type":"quantitative"},"color":{"field":"col","type":"nominal","scale":null}}},
{"data":{"name":"sig"},"transform":[{"filter":"datum.k=='right'"}],"mark":{"type":"point","filled":true,"opacity":1,"size":50,"shape":"triangle-right"},
 "encoding":{"x":{"field":"i","type":"quantitative"},"y":{"field":"p","type":"quantitative"},"color":{"field":"col","type":"nominal","scale":null}}},
{"data":{"name":"sig"},"transform":[{"filter":"datum.k=='down2'"}],"mark":{"type":"point","filled":true,"opacity":1,"size":40,"shape":"triangle-down"},
 "encoding":{"x":{"field":"i","type":"quantitative"},"y":{"field":"p","type":"quantitative"},"color":{"field":"col","type":"nominal","scale":null}}},
{"data":{"name":"tags"},"mark":{"type":"point","filled":true,"opacity":1,"size":1681,"clip":false,"shape":"M-1,0 L-0.756,-0.32 L1,-0.32 L1,0.32 L-0.756,0.32 Z"},
 "encoding":{"x":{"datum":313.42,"type":"quantitative"},"y":{"field":"p","type":"quantitative"},"color":{"field":"col","type":"nominal","scale":null}}},
{"data":{"name":"tags"},"mark":{"type":"text","clip":false,"font":"Liberation Sans","fontSize":11,"color":"#ffffff","align":"center","baseline":"middle"},
 "encoding":{"x":{"datum":313.9,"type":"quantitative"},"y":{"field":"p","type":"quantitative"},"text":{"field":"t"}}},
{"data":{"values":[{"t":"Bollinger(TF 06-15 (30 Tick),2,14), AaPriceLine, HeikenAshi(TF 06-15 (30 Tick))"}]},
 "mark":{"type":"text","font":"Liberation Sans","fontSize":11,"color":"#000000","align":"left","baseline":"middle"},
 "encoding":{"x":{"datum":-0.883,"type":"quantitative"},"y":{"datum":1257.168,"type":"quantitative"},"text":{"field":"t"}}},
{"data":{"values":[{"t":"© 2015 NinjaTrader, LLC"}]},
 "mark":{"type":"text","font":"Liberation Sans","fontSize":11,"color":"#000000","align":"left","baseline":"middle"},
 "encoding":{"x":{"datum":-0.883,"type":"quantitative"},"y":{"datum":1249.149,"type":"quantitative"},"text":{"field":"t"}}},
{"data":{"values":[{"f":"right"}]},"mark":{"type":"rule","color":"#000000","strokeWidth":1,"clip":false},
 "encoding":{"x":{"datum":318.2,"type":"quantitative"},"y":{"datum":1257.2633,"type":"quantitative"},"y2":{"datum":1248.714}}},
{"data":{"values":[{"f":"top"}]},"mark":{"type":"rule","color":"#000000","strokeWidth":1,"clip":false},
 "encoding":{"x":{"datum":309.6,"type":"quantitative"},"x2":{"datum":318.2},"y":{"datum":1257.2633,"type":"quantitative"}}},
{"data":{"values":[{"f":"bottom"}]},"mark":{"type":"rule","color":"#000000","strokeWidth":1,"clip":false},
 "encoding":{"x":{"datum":-1.3,"type":"quantitative"},"x2":{"datum":318.2},"y":{"datum":1248.714,"type":"quantitative"}}}
]
}
